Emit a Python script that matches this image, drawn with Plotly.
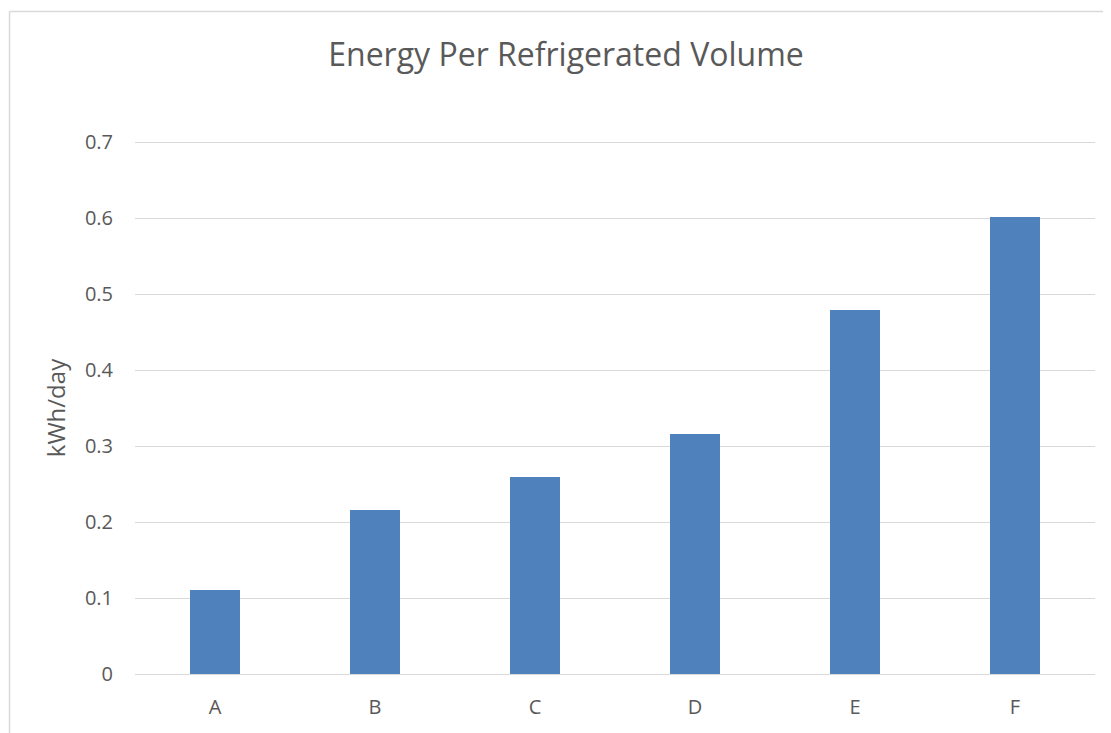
import plotly.graph_objects as go

categories = ["A", "B", "C", "D", "E", "F"]
values = [0.11, 0.216, 0.259, 0.316, 0.479, 0.601]
y_ticks = [0, 0.1, 0.2, 0.3, 0.4, 0.5, 0.6, 0.7]
y_tick_labels = ["0", "0.1", "0.2", "0.3", "0.4", "0.5", "0.6", "0.7"]

# page is offset by the 8px body margin of the html page
OFF = 8
W, H = 1111 - OFF, 733 - OFF
# plot area in page pixels: x 135..1095, y 142..674
PX0, PX1, PY0, PY1 = 135, 1095, 142, 674
L, R = PX0 - OFF, (W + OFF) - PX1
T, B = PY0 - OFF, (H + OFF) - PY1
pw, ph = PX1 - PX0, PY1 - PY0

def px(x):
    return (x - PX0) / pw

def py(y):
    return (PY1 - y) / ph

fig = go.Figure(go.Bar(
    x=categories, y=values,
    marker=dict(color="#4f81bd", line=dict(width=0)),
    width=0.3125,
))

text_color = "#595959"
font_family = "Open Sans, Liberation Sans, sans-serif"

fig.update_layout(
    width=W, height=H,
    margin=dict(l=L, r=R, t=T, b=B, pad=0),
    paper_bgcolor="white", plot_bgcolor="white",
    showlegend=False,
    title=dict(text="Energy Per Refrigerated Volume",
               x=px(566), xanchor="center", xref="paper",
               y=1 - (55 - OFF) / H, yanchor="middle", yref="container",
               font=dict(family=font_family, size=32, color=text_color)),
    font=dict(family=font_family, color=text_color),
    bargap=0,
)
fig.update_xaxes(
    showgrid=False, showline=False, zeroline=False,
    tickfont=dict(size=20, color=text_color),
    ticks="outside", ticklen=15, tickcolor="rgba(0,0,0,0)",
)
ymax = y_ticks[-1]
fig.update_yaxes(
    range=[0, ymax], tickvals=y_ticks, ticktext=y_tick_labels,
    showgrid=True, gridcolor="#d9d9d9", gridwidth=1,
    zeroline=True, zerolinecolor="#d9d9d9", zerolinewidth=1,
    showline=False,
    tickfont=dict(size=20, color=text_color),
    ticks="outside", ticklen=17, tickcolor="rgba(0,0,0,0)",
    title=dict(text="kWh/day", font=dict(size=24, color=text_color), standoff=12),
)

# top gridline at the edge of the value range (nudged half a pixel for crispness)
half_px = 0.5 * ymax / ph
fig.add_shape(type="line", xref="paper", yref="y",
              x0=0, x1=1, y0=ymax - half_px, y1=ymax - half_px,
              line=dict(color="#d9d9d9", width=1), layer="below")

# chart area border (left and top visible)
fig.add_shape(type="line", xref="paper", yref="paper",
              x0=px(9.5), x1=px(9.5), y0=py(11.5), y1=py(760),
              line=dict(color="#d9d9d9", width=1.5))
fig.add_shape(type="line", xref="paper", yref="paper",
              x0=px(9.5), x1=px(1130), y0=py(11.5), y1=py(11.5),
              line=dict(color="#d9d9d9", width=1.5))

fig.write_html("out.html")
